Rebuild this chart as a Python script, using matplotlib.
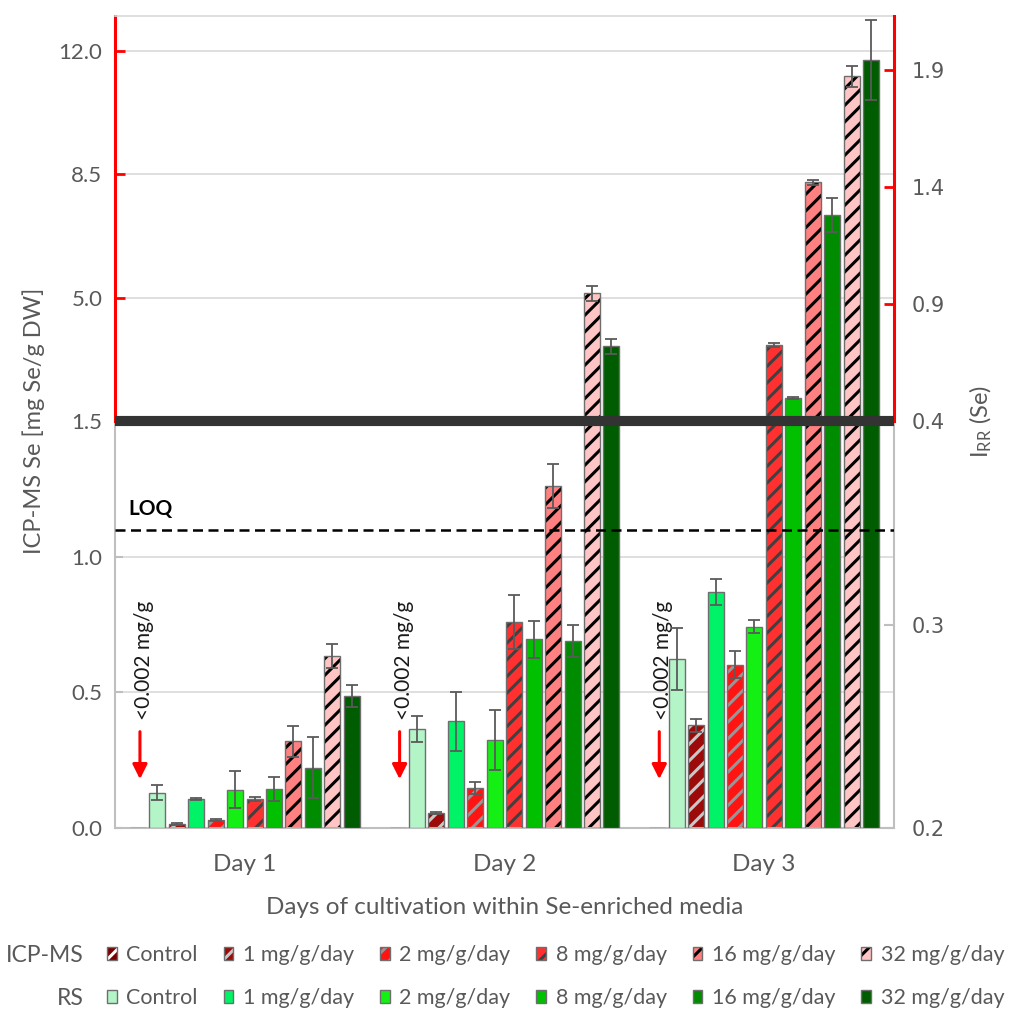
import numpy as np
import matplotlib.pyplot as plt

plt.rcParams['font.family'] = ['Lato', 'DejaVu Sans']
plt.rcParams['hatch.linewidth'] = 2.2
plt.rcParams['mathtext.default'] = 'regular'

days = ['Day 1', 'Day 2', 'Day 3']
doses = ['Control', '1 mg/g/day', '2 mg/g/day', '8 mg/g/day', '16 mg/g/day', '32 mg/g/day']

# ICP-MS Se [mg Se/g DW], one row per dose, one value per day
icp = [[0.0, 0.0, 0.0],
       [0.015, 0.054, 0.378],
       [0.03, 0.149, 0.602],
       [0.108, 0.76, 3.66],
       [0.32, 1.26, 8.27],
       [0.635, 5.12, 11.28]]
icp_err = [[0, 0, 0],
           [0.003, 0.004, 0.025],
           [0.003, 0.022, 0.05],
           [0.007, 0.099, 0.05],
           [0.057, 0.081, 0.06],
           [0.044, 0.21, 0.3]]

# Raman I_RR (Se)
rs = [[0.2174, 0.2487, 0.283],
      [0.2143, 0.2524, 0.316],
      [0.2187, 0.2431, 0.2989],
      [0.2192, 0.2927, 0.498],
      [0.2297, 0.292, 1.279],
      [0.2649, 0.718, 1.94]]
rs_err = [[0.0036, 0.0062, 0.0153],
          [0.0005, 0.0144, 0.0066],
          [0.0091, 0.0148, 0.0032],
          [0.0059, 0.009, 0.003],
          [0.0148, 0.0079, 0.074],
          [0.0052, 0.03, 0.17]]

loq = 1.1
rs_base = 0.2

icp_face = ['#7a0000', '#9c0a0a', '#ff1414', '#ff3030', '#ff8080', '#ffc4c4']
icp_hatch = ['#ffffff', '#c8c8c8', '#969696', '#404040', '#000000', '#000000']
rs_face = ['#b4f5c8', '#00f266', '#14f014', '#00c000', '#008c00', '#005c00']

grey_txt = '#595959'
grey_ax = '#bfbfbf'

fig = plt.figure(figsize=(10.19, 10.21), dpi=100)
L, W = 115 / 1019, 779 / 1019
ax_lo = fig.add_axes([L, 1 - 828 / 1021, W, 407 / 1021])
ax_hi = fig.add_axes([L, 1 - 421 / 1021, W, 405.3 / 1021])
ax_lo_r = ax_lo.twinx()
ax_hi_r = ax_hi.twinx()

x = np.arange(len(days))
pitch = 0.0749
bw = 0.0616

icp_handles = []
rs_handles = []
for k in range(len(doses)):
    xi = x + (2 * k - 5.5) * pitch
    xr = x + (2 * k + 1 - 5.5) * pitch
    hi = np.array(icp[k])
    he = np.array(icp_err[k])
    rv = np.array(rs[k])
    re = np.array(rs_err[k])
    for ax, axr in [(ax_lo, ax_lo_r), (ax_hi, ax_hi_r)]:
        hb = ax.bar(xi, hi, bw, color=icp_face[k], edgecolor=icp_hatch[k],
                    hatch='//', linewidth=0, zorder=2)
        ob = ax.bar(xi, hi, bw, fill=False, edgecolor='#6e6e6e', linewidth=1, zorder=3)
        m = he > 0
        if m.any():
            ax.errorbar(xi[m], hi[m], yerr=he[m], fmt='none', ecolor='#5a5a5a',
                        elinewidth=1.3, capsize=4, capthick=1.3, zorder=4)
        rb = axr.bar(xr, rv - rs_base, bw, bottom=rs_base, color=rs_face[k],
                     edgecolor='#6e6e6e', linewidth=1, zorder=2)
        axr.errorbar(xr, rv, yerr=re, fmt='none', ecolor='#5a5a5a',
                     elinewidth=1.3, capsize=4, capthick=1.3, zorder=4)
        if ax is ax_lo:
            icp_handles.append((hb, ob))
            rs_handles.append(rb)

# LOQ line and label
ax_lo_r.plot([-0.5, 2.5], [loq, loq], transform=ax_lo.transData, color='black',
             lw=1.8, ls=(0, (4, 2.2)), zorder=6)
ax_lo.text(-0.45, 1.154, 'LOQ', fontsize=15, fontweight='bold', va='baseline', ha='left')

# "<0.002 mg/g" markers above the ICP-MS controls
for i in range(len(days)):
    xc = x[i] - 5.5 * pitch
    ax_lo.annotate('', xy=(xc + 0.008, 0.18), xytext=(xc + 0.008, 0.355),
                   arrowprops=dict(arrowstyle='-|>', color='red', lw=2.2,
                                   mutation_scale=22, shrinkA=0, shrinkB=0))
    ax_lo.text(xc + 0.023, 0.398, '<0.002 mg/g', rotation=90, ha='center', va='bottom',
               fontsize=15, color='#1a1a1a')

# break bar
ax_hi_r.axhline(0.4, color='#333333', lw=7.3, clip_on=False, zorder=10,
                solid_capstyle='butt')

for a in (ax_lo, ax_hi, ax_lo_r, ax_hi_r):
    a.set_xlim(-0.5, 2.5)
ax_lo.set_ylim(0, 1.5)
ax_lo_r.set_ylim(0.2, 0.4)
ax_hi.set_ylim(1.5, 13.0)
ax_hi_r.set_ylim(0.4, 2.13)

ax_lo.set_yticks([0.0, 0.5, 1.0, 1.5], ['0.0', '0.5', '1.0', '1.5'])
ax_hi.set_yticks([5.0, 8.5, 12.0], ['5.0', '8.5', '12.0'])
ax_lo_r.set_yticks([0.2, 0.3, 0.4], ['0.2', '0.3', '0.4'])
ax_hi_r.set_yticks([0.9, 1.4, 1.9], ['0.9', '1.4', '1.9'])

for a in (ax_lo, ax_hi):
    a.set_axisbelow(True)
    a.yaxis.grid(True, color='#d9d9d9', lw=1.2)

ax_lo.set_xticks(x, days)
ax_lo.tick_params(axis='x', length=0, pad=19, labelsize=17.5, labelcolor=grey_txt)
for a in (ax_hi, ax_lo_r, ax_hi_r):
    a.tick_params(axis='x', length=0, labelbottom=False)

ax_lo.tick_params(axis='y', direction='in', length=6, width=1.5, color=grey_ax,
                  labelsize=16, labelcolor=grey_txt, pad=9)
ax_hi.tick_params(axis='y', direction='in', length=7, width=2, color='red',
                  labelsize=16, labelcolor=grey_txt, pad=9)
for a, c in ((ax_lo_r, grey_ax), (ax_hi_r, 'red')):
    a.tick_params(axis='y', direction='in', length=7, width=1.5 if c == grey_ax else 2,
                  color=c, labelsize=15, labelcolor=grey_txt, pad=13)
    for lab in a.get_yticklabels():
        lab.set_fontfamily('DejaVu Sans')

for s in ax_lo.spines.values():
    s.set_color(grey_ax)
    s.set_linewidth(1.5)
ax_lo.spines['top'].set_visible(False)
ax_lo.spines['right'].set_visible(False)
for s in ['top', 'bottom', 'left']:
    ax_lo_r.spines[s].set_visible(False)
ax_lo_r.spines['right'].set_color(grey_ax)
ax_lo_r.spines['right'].set_linewidth(1.5)

ax_hi.spines['bottom'].set_visible(False)
ax_hi.spines['right'].set_visible(False)
ax_hi.spines['top'].set_color('#d9d9d9')
ax_hi.spines['top'].set_linewidth(1.2)
ax_hi.spines['left'].set_color('red')
ax_hi.spines['left'].set_linewidth(2.2)
for s in ['top', 'bottom', 'left']:
    ax_hi_r.spines[s].set_visible(False)
ax_hi_r.spines['right'].set_color('red')
ax_hi_r.spines['right'].set_linewidth(2.2)

# axis titles
fig.text(34 / 1019, 1 - 421 / 1021, 'ICP-MS Se [mg Se/g DW]', rotation=90,
         ha='center', va='center', fontsize=17, color=grey_txt)
fig.text(981 / 1019, 1 - 421 / 1021, r'I$_{RR}$ (Se)', rotation=90,
         ha='center', va='center', fontsize=17, color=grey_txt)
fig.text(504.5 / 1019, 1 - 907 / 1021, 'Days of cultivation within Se-enriched media',
         ha='center', va='center', fontsize=17.5, color=grey_txt)

# legend rows
leg_kw = dict(ncol=6, frameon=False, fontsize=15.5, handlelength=0.45, handleheight=0.6,
              handletextpad=0.45, columnspacing=1.2, borderpad=0, borderaxespad=0,
              labelcolor=grey_txt, loc='center left')
fig.legend(icp_handles, doses, bbox_to_anchor=(107 / 1019, 1 - 955 / 1021), **leg_kw)
fig.legend(rs_handles, doses, bbox_to_anchor=(107 / 1019, 1 - 998 / 1021), **leg_kw)
fig.text(84 / 1019, 1 - 955 / 1021, 'ICP-MS', ha='right', va='center', fontsize=16.5,
         color=grey_txt)
fig.text(84 / 1019, 1 - 998 / 1021, 'RS', ha='right', va='center', fontsize=16.5,
         color=grey_txt)

fig.savefig('out.png', dpi=100, facecolor='white')
